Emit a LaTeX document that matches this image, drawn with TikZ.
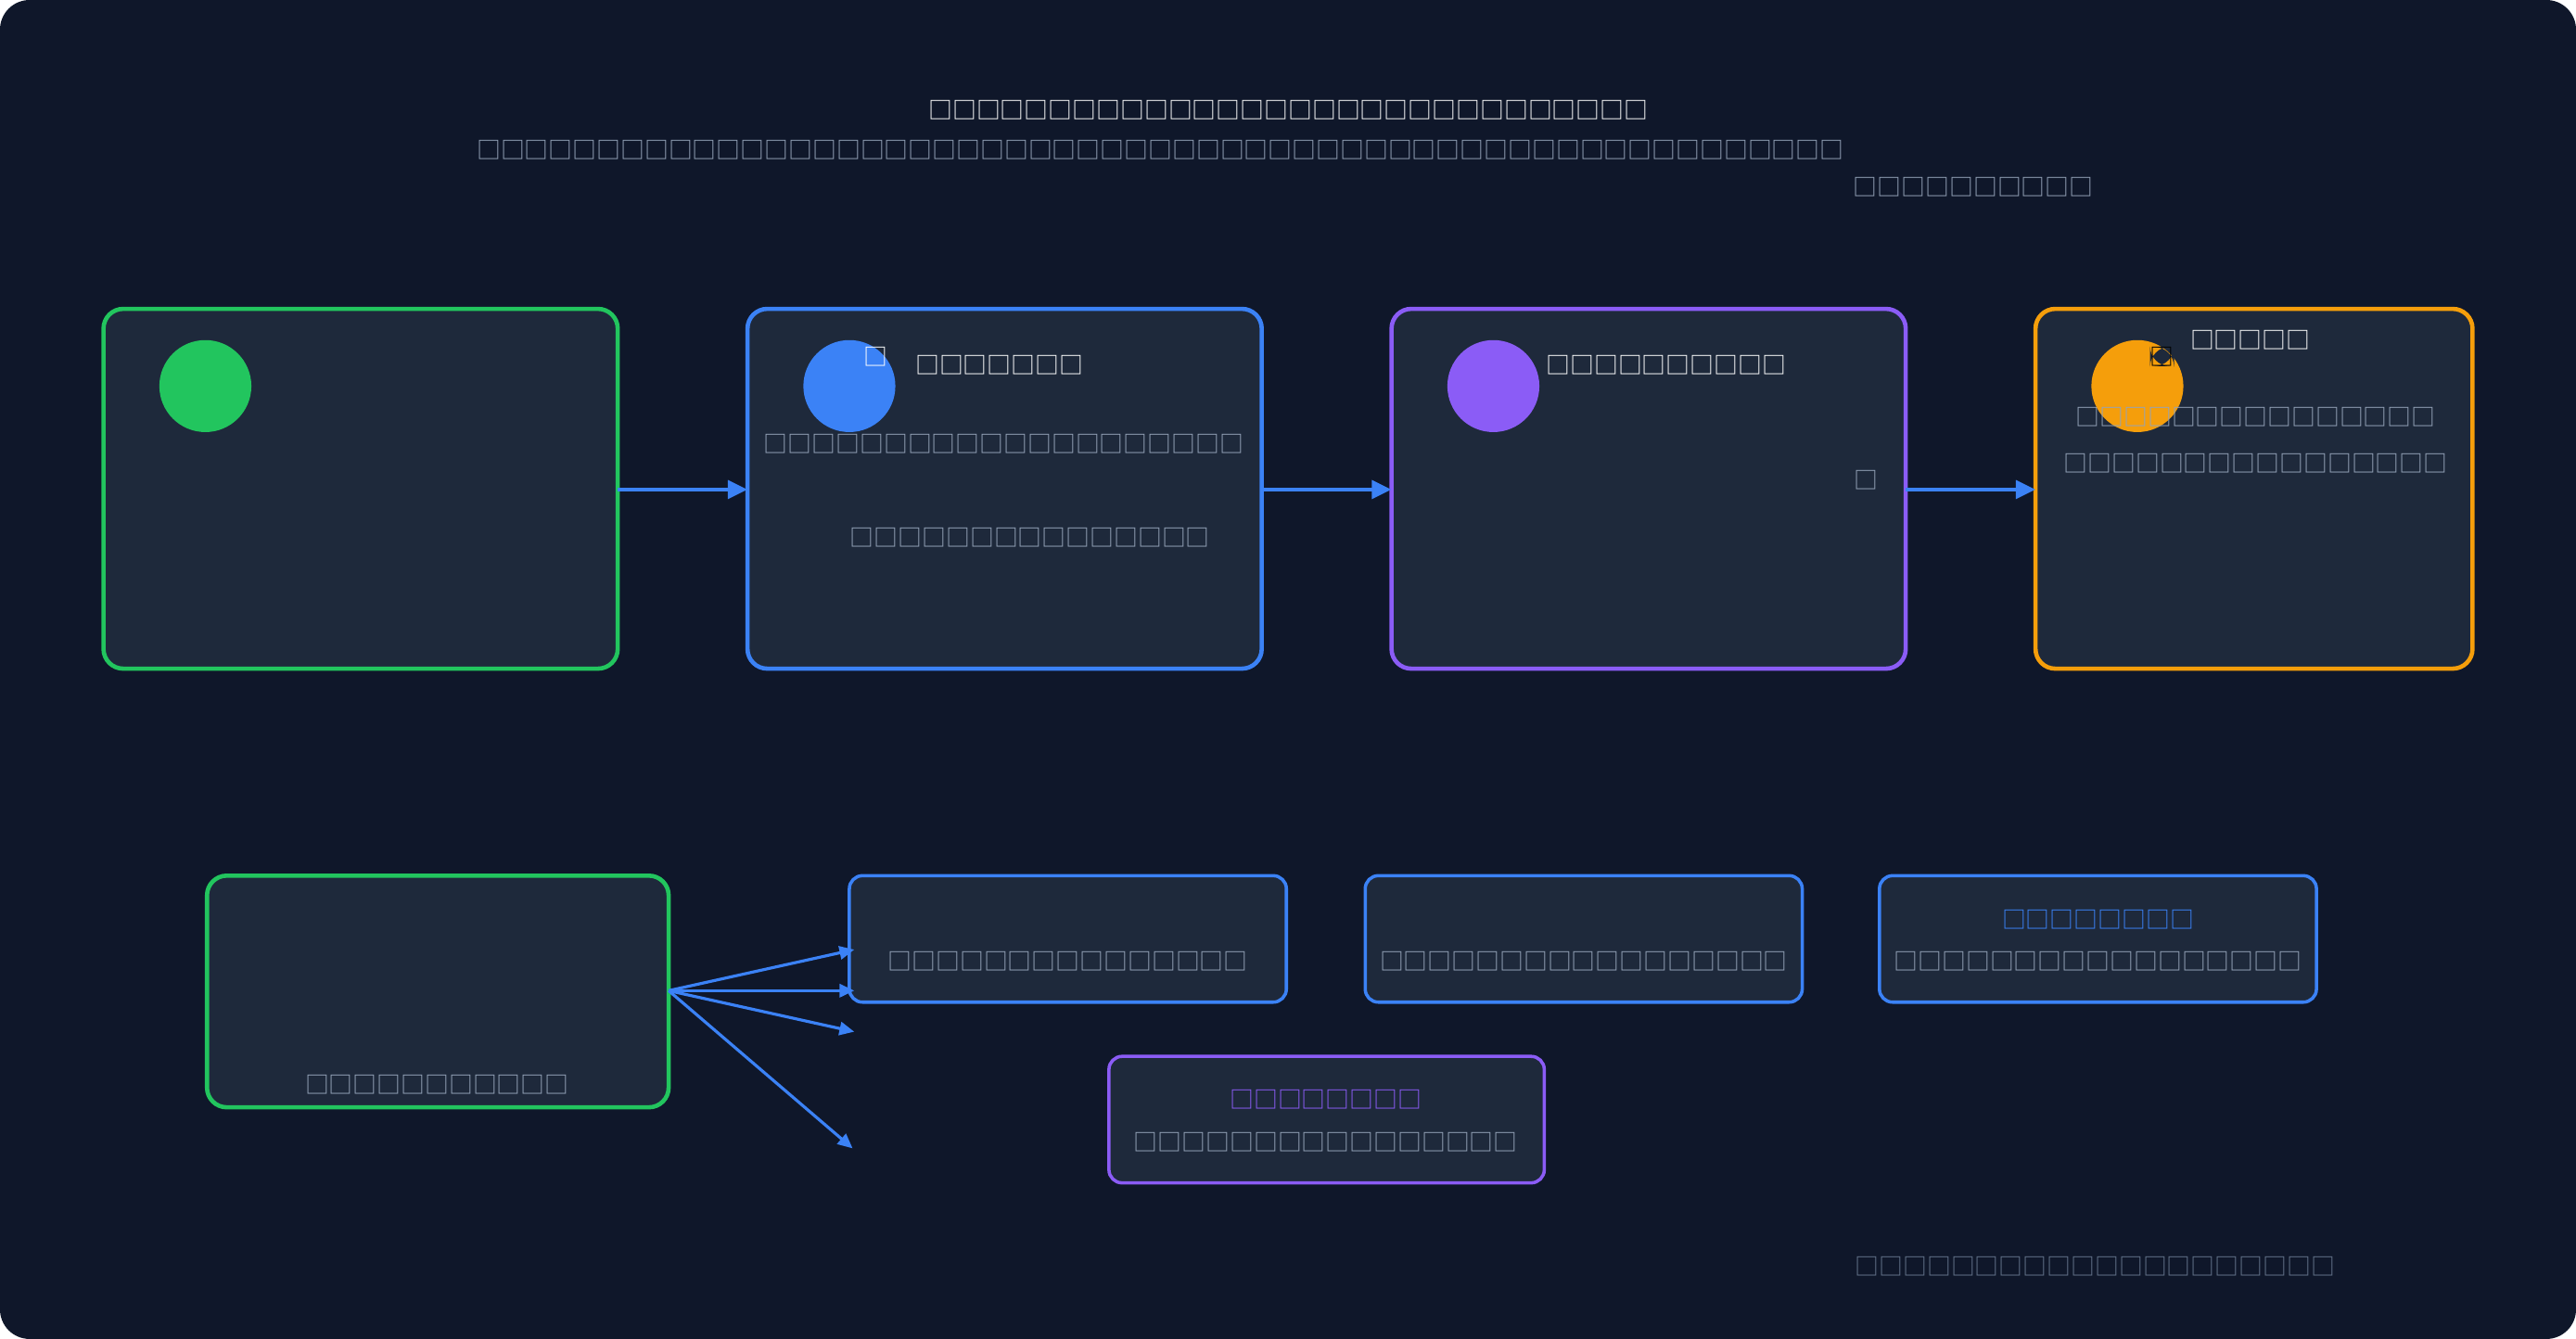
\documentclass[tikz,border=0pt]{standalone}
\usepackage{fontspec}
\setmainfont{Noto Sans CJK SC}
\usetikzlibrary{arrows.meta}
\definecolor{bg}{HTML}{0F172A}
\definecolor{card}{HTML}{1E293B}
\definecolor{cg}{HTML}{22C55E}
\definecolor{cb}{HTML}{3B82F6}
\definecolor{cp}{HTML}{8B5CF6}
\definecolor{co}{HTML}{F59E0B}
\definecolor{tx}{HTML}{94A3B8}
\definecolor{ft}{HTML}{64748B}
\newcommand\tf[1]{\foreach \i in {1,...,#1}{□}}
\begin{document}
\begin{tikzpicture}[x=1pt,y=-1pt,
 card/.style={fill=card,line width=2.6pt,rounded corners=12pt},
 sm/.style={fill=card,line width=2pt,rounded corners=8pt},
 t/.style={inner sep=0pt,font=\fontsize{14.6}{15}\selectfont},
 arr/.style={draw=cb,line width=2.6pt,-{Triangle[length=12pt,width=11pt]}},
 arr2/.style={draw=cb,line width=1.8pt,-{Triangle[length=9pt,width=8pt]}}]
\useasboundingbox (0,0) rectangle (1568,815);
\fill[bg,rounded corners=18pt] (0,0) rectangle (1568,815);
\node[t,white,anchor=west] (title) at (565,67) {\tf{30}};
\node[t,tx,anchor=west] (sub1) at (290,91) {\tf{57}};
\node[t,tx,anchor=west] (sub2) at (1128,114) {\tf{10}};
% top cards
\draw[card,draw=cg] (63,188) rectangle (376,407);
\node[coordinate] (c1r) at (376,298) {};
\fill[cg] (125,235) circle (28);
\draw[card,draw=cb] (455,188) rectangle (768,407);
\node[coordinate] (c2l) at (455,298) {}; \node[coordinate] (c2r) at (768,298) {};
\fill[cb] (517,235) circle (28);
\node[t,white] (i2) at (533,217) {□};
\node[t,white,anchor=west] (h2) at (557,222) {\tf{7}};
\node[t,tx] (l21) at (611,270) {\tf{20}};
\node[t,tx] (l22) at (627,327) {\tf{15}};
\draw[card,draw=cp] (847,188) rectangle (1160,407);
\node[coordinate] (c3l) at (847,298) {}; \node[coordinate] (c3r) at (1160,298) {};
\fill[cp] (909,235) circle (28);
\node[t,white,anchor=west] (h3) at (941,222) {\tf{10}};
\node[t,tx] (i3) at (1136,292) {□};
\draw[card,draw=co] (1239,188) rectangle (1505,407);
\node[coordinate] (c4l) at (1239,298) {};
\fill[co] (1301,235) circle (28);
\node[t,card] (i4) at (1316,217) {□};
\node[t,white,anchor=west] (h4) at (1333,207) {\tf{5}};
\node[t,tx] (l41) at (1373,254) {\tf{15}};
\node[t,tx] (l42) at (1373,282) {\tf{16}};
\draw[arr] (c1r) -- (c2l);
\draw[arr] (c2r) -- (c3l);
\draw[arr] (c3r) -- (c4l);
% bottom
\draw[card,draw=cg] (126,533) rectangle (407,674);
\node[coordinate] (src) at (407,603) {};
\node[t,tx] (b1) at (266,660) {\tf{11}};
\draw[sm,draw=cb] (517,533) rectangle (783,610);
\node[t,tx] (b2) at (650,585) {\tf{15}};
\draw[sm,draw=cb] (831,533) rectangle (1097,610);
\node[t,tx] (b3) at (964,585) {\tf{17}};
\draw[sm,draw=cb] (1144,533) rectangle (1410,610);
\node[t,cb] (b4h) at (1277,560) {\tf{8}};
\node[t,tx] (b4) at (1277,585) {\tf{17}};
\draw[sm,draw=cp] (675,643) rectangle (940,720);
\node[t,cp] (b5h) at (807,669) {\tf{8}};
\node[t,tx] (b5) at (807,695) {\tf{16}};
\node[coordinate] (e1) at (520,578) {};
\node[coordinate] (e2) at (520,603) {};
\node[coordinate] (e3) at (520,628) {};
\node[coordinate] (e4) at (519,699) {};
\foreach \e in {e1,e2,e3,e4} \draw[arr2] (src) -- (\e);
\node[t,ft,anchor=west] (foot) at (1129,771) {\tf{20}};
\end{tikzpicture}
\end{document}
